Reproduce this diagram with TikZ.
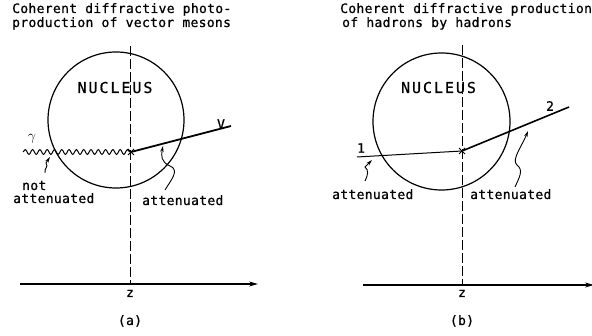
\documentclass[tikz,border=0pt]{standalone}
\usepackage{fontspec}
\newfontfamily\lettering[LetterSpace=2.5,FakeBold=0.8]{DejaVu Sans Mono}
\newfontfamily\bigletter[LetterSpace=13,FakeBold=0.8]{DejaVu Sans Mono}
\usetikzlibrary{arrows.meta,decorations.pathmorphing,shapes.misc}

\tikzset{
  txt/.style={font=\lettering\fontsize{13}{15}\selectfont, inner sep=0pt},
  nuclabel/.style={font=\bigletter\fontsize{15}{18}\selectfont, inner sep=0pt},
  nucleus/.style={circle, draw, line width=1.2pt, inner sep=0pt},
  vtx/.style={cross out, draw, line width=1pt, minimum size=5pt, inner sep=0pt},
  squig/.style={line width=0.9pt, -{Stealth[length=6pt,width=3.5pt]}},
  zaxis/.style={line width=1.1pt, -{Stealth[length=9pt,width=5pt]}},
  zline/.style={line width=0.7pt, dash pattern=on 10pt off 3pt}
}

\begin{document}
\begin{tikzpicture}[x=1pt, y=-1pt]
  \useasboundingbox (0,0) rectangle (592,336);
  % ---- (a) photoproduction
  \node[txt, anchor=base west] (tia1) at (12,13) {Coherent diffractive photo-};
  \node[txt, anchor=base west] (tia2) at (12,27) {production of vector mesons};
  \node[nucleus, minimum size=136pt] (nuca) at (116,120) {};
  \node[nuclabel] (labna) at (115,87.5) {NUCLEUS};
  \draw[zline] (130.5,46) -- (130.5,284);
  \coordinate (aleft) at (20,284);
  \coordinate (aright) at (258,284);
  \draw[zaxis] (aleft) -- (aright);
  \node[txt, anchor=base] (za) at (130,297) {z};
  \node[txt, anchor=base] (capa) at (130,325) {(a)};
  \node[vtx] (va) at (131,152) {};
  \coordinate (gin) at (23,152);
  \coordinate (vout) at (231,126);
  \draw[line width=1pt, decorate, decoration={snake, segment length=7.3pt, amplitude=2.4pt}] (gin) -- (va.center);
  \draw[line width=1.8pt] (va.center) -- (vout);
  \node[font=\fontsize{14}{16}\selectfont, inner sep=0pt] (gam) at (32,139) {$\gamma$};
  \node[txt] (labv) at (221,124) {V};
  \node[txt, anchor=base west] (nota) at (22,190) {not};
  \node[txt, anchor=base west] (natt) at (13,203) {attenuated};
  \node[txt, anchor=base west] (atta) at (142,205) {attenuated};
  \draw[squig] (45,173) .. controls (44,168) and (49,167) .. (46,163) -- (50,157);
  \draw[squig] (165,190) .. controls (171,180) and (180,170) .. (170,166)
    .. controls (161,162) and (161,156) .. (163,146);
  % ---- (b) hadroproduction
  \node[txt, anchor=base west] (tib1) at (340,13) {Coherent diffractive production};
  \node[txt, anchor=base west] (tib2) at (342,27) {of hadrons by hadrons};
  \node[nucleus, minimum size=137pt] (nucb) at (441.5,121.5) {};
  \node[nuclabel] (labnb) at (438.5,87.5) {NUCLEUS};
  \draw[zline] (462.5,45) -- (462.5,285);
  \coordinate (bleft) at (363,285);
  \coordinate (bright) at (594,285);
  \draw[zaxis] (bleft) -- (bright);
  \node[txt, anchor=base] (zb) at (462,297) {z};
  \node[txt, anchor=base] (capb) at (462,325) {(b)};
  \node[vtx] (vb) at (462,151) {};
  \coordinate (hin) at (357,157);
  \coordinate (hout) at (569,107);
  \draw[line width=1pt] (hin) -- (vb.center);
  \draw[line width=1.6pt] (vb.center) -- (hout);
  \node[txt] (lab1) at (361,148) {1};
  \node[txt] (lab2) at (550,106) {2};
  \node[txt, anchor=base west] (attb1) at (332,199) {attenuated};
  \node[txt, anchor=base west] (attb2) at (470,199) {attenuated};
  \draw[squig] (365,181) .. controls (368,175) and (369,170) .. (365,167) -- (372,160);
  \draw[squig] (515,187) .. controls (519,178) and (524,170) .. (517,165)
    .. controls (511,160) and (522,146) .. (528,131);
\end{tikzpicture}
\end{document}
